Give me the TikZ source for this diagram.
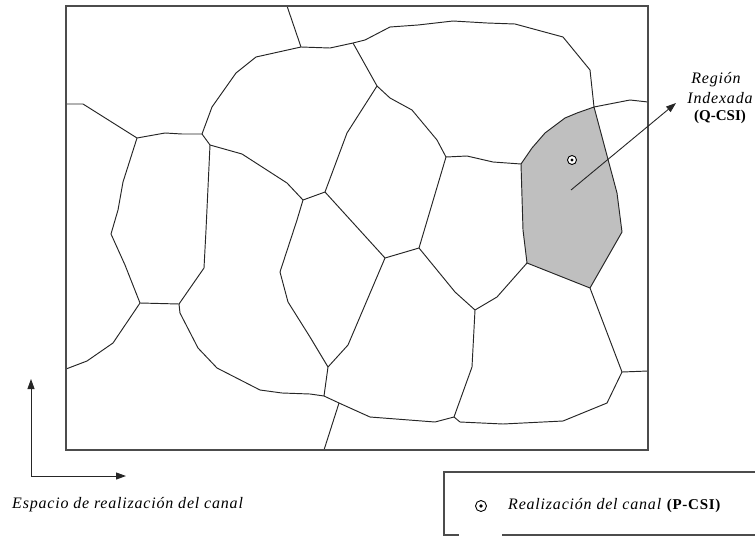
\documentclass[tikz,border=0pt]{standalone}
\usepackage{fontspec}
\setmainfont{Liberation Serif}
\usetikzlibrary{arrows.meta}
\tikzset{
  frame/.style={draw=black!70, line width=1.3pt},
  edge/.style={draw=black!85, line width=0.95pt, line join=round},
  region/.style={edge, fill=black!25},
  axis/.style={draw=black!85, line width=1pt, -{Triangle[length=10pt,width=7pt]}},
  lbl/.style={font=\fontsize{16}{19}\selectfont\itshape\addfontfeatures{LetterSpace=5}, inner sep=0pt},
  bld/.style={font=\fontsize{15}{18}\selectfont\bfseries, inner sep=0pt},
  pt/.style={draw=black, line width=0.9pt, fill=white}
}
\begin{document}
\begin{tikzpicture}[x=1pt,y=-1pt]
\useasboundingbox (0,0) rectangle (755,536);
% shaded indexed region
\path[region] (594,107) -- (577,113) -- (565,118) -- (545,133) -- (532,148) -- (521,164)
  -- (523,230) -- (527,263) -- (590,288) -- (622,232) -- (617,193) -- cycle;
% Voronoi edges
\draw[edge] (287,6) -- (301,47);
\draw[edge] (66,104) -- (83,104) -- (137,138) -- (165,133) -- (182,134) -- (202,134);
\draw[edge] (202,134) -- (212,107) -- (236,73) -- (256,57) -- (301,47) -- (330,48) -- (353,43)
  -- (365,40) -- (390,27) -- (418,25) -- (453,21) -- (487,23) -- (515,24) -- (563,37)
  -- (590,70) -- (594,107);
\draw[edge] (202,134) -- (210,145) -- (242,154) -- (287,183) -- (303,200);
\draw[edge] (210,145) -- (206,230) -- (204,268) -- (179,304);
\draw[edge] (137,138) -- (123,182) -- (118,210) -- (111,234) -- (125,265) -- (140,303) -- (179,304);
\draw[edge] (140,303) -- (113,343) -- (87,361) -- (66,369);
\draw[edge] (179,304) -- (180,313) -- (198,348) -- (217,368) -- (260,390) -- (282,393) -- (310,394) -- (324,396);
\draw[edge] (303,200) -- (297,220) -- (280,272) -- (288,302) -- (310,337) -- (328,367);
\draw[edge] (303,200) -- (325,192) -- (347,133) -- (377,86) -- (353,43);
\draw[edge] (377,86) -- (390,98) -- (412,110) -- (437,140) -- (446,157) -- (467,156) -- (493,162) -- (521,164);
\draw[edge] (446,157) -- (419,248);
\draw[edge] (325,192) -- (385,258) -- (419,248) -- (455,292) -- (475,310) -- (497,297) -- (527,263);
\draw[edge] (475,310) -- (472,367) -- (454,417);
\draw[edge] (385,258) -- (348,345) -- (328,367) -- (324,396);
\draw[edge] (324,396) -- (339,403) -- (370,417) -- (435,422) -- (454,417);
\draw[edge] (339,403) -- (324,450);
\draw[edge] (454,417) -- (460,422) -- (503,424) -- (563,421) -- (607,403) -- (622,372) -- (648,371);
\draw[edge] (590,288) -- (622,372);
\draw[edge] (594,107) -- (630,100) -- (648,102);
% frame
\draw[frame] (66,6) rectangle (648,450);
% channel realization point
\node[pt, circle, minimum size=9pt, inner sep=0pt] (p) at (572,160) {};
\fill (p.center) circle (1.6pt);
% label and arrow
\node[lbl, align=center] (reg) at (716,80) {Región};
\node[lbl, align=center] (idx) at (720,98) {Indexada};
\node[bld] (qcsi) at (720,117) {(Q-CSI)};
\coordinate (a0) at (571,190);
\coordinate (a1) at (676,103);
\draw[axis, line width=0.9pt] (a0) -- (a1);
% axes
\coordinate (o) at (31,476);
\coordinate (oy) at (31,379);
\coordinate (ox) at (126,476);
\draw[axis] (o) -- (oy);
\draw[axis] (o) -- (ox);
\node[lbl, anchor=west] (esp) at (12,505) {Espacio de realización del canal};
% legend
\draw[frame] (755,472) -- (444,472) -- (444,535) -- (459,535);
\draw[frame] (502,535) -- (755,535);
\node[pt, circle, minimum size=11pt, inner sep=0pt] (lp) at (481,506) {};
\fill (lp.center) circle (1.8pt);
\node[lbl, anchor=west] (leg) at (508,506) {Realización del canal \textup{\bfseries\fontsize{15}{18}\selectfont (P-CSI)}};
\end{tikzpicture}
\end{document}
